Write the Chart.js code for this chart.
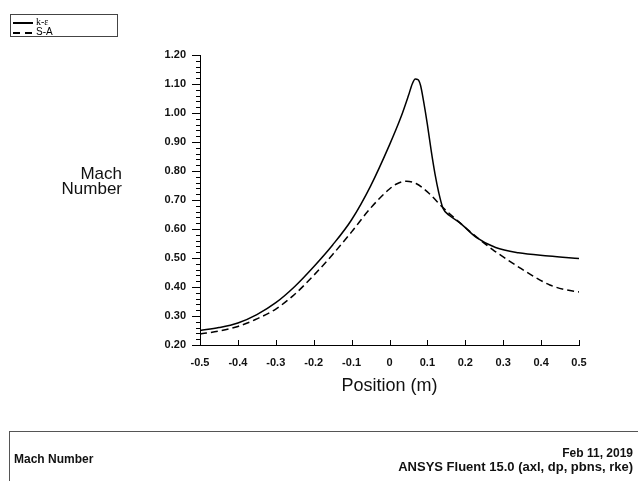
<!DOCTYPE html>
<html>
<head>
<meta charset="utf-8">
<script src="https://cdn.jsdelivr.net/npm/chart.js@4.4.1/dist/chart.umd.min.js"></script>
<style>
    body { margin: 0; background: #fff; }
    #wrap { position: relative; width: 638px; height: 481px; overflow: hidden; font-family: "Liberation Sans", Arial, sans-serif; color: #111; }
    #chart { position: absolute; left: 0; top: 0; }
    #legend { position: absolute; left: 10px; top: 14px; width: 106px; height: 21px; border: 1px solid #444; }
    .leg-row { position: absolute; left: 2px; height: 10px; font-size: 10px; line-height: 10px; color: #000; }
    .leg-line { position: absolute; left: 0; top: 5px; width: 20px; height: 1.5px; background: #000; }
    .leg-line.dash { background: repeating-linear-gradient(to right, #000 0 7px, transparent 7px 12px); }
    .leg-text { position: absolute; left: 23px; top: 0; white-space: nowrap; }
    #ytitle { position: absolute; right: 516px; top: 166px; text-align: right; font-size: 17px; line-height: 15px; }
    #footer { position: absolute; left: 9px; top: 431px; width: 650px; height: 70px; border: 1px solid #555; }
    .foot { position: absolute; font-size: 12px; font-weight: bold; white-space: nowrap; line-height: 13px; }
</style>
</head>
<body>
<div id="wrap">
    <canvas id="chart" width="638" height="481"></canvas>
    <div id="legend">
        <div class="leg-row" style="top:2px"><span class="leg-line"></span><span class="leg-text" style="font-family:'Liberation Serif',serif">k-ε</span></div>
        <div class="leg-row" style="top:12px"><span class="leg-line dash"></span><span class="leg-text">S-A</span></div>
    </div>
    <div id="ytitle">Mach<br>Number</div>
    <div id="footer">
        <div class="foot" style="left:4px;top:21px">Mach Number</div>
        <div class="foot" style="right:27px;top:15px">Feb 11, 2019</div>
        <div class="foot" style="right:27px;top:28px;font-size:13px">ANSYS Fluent 15.0 (axl, dp, pbns, rke)</div>
    </div>
</div>
<script>
// k-epsilon solution
const kepsX = [-0.5, -0.45, -0.4, -0.35, -0.3, -0.25, -0.2, -0.15, -0.1, -0.05, 0, 0.03, 0.05, 0.06, 0.068, 0.075, 0.082, 0.09, 0.1, 0.11, 0.12, 0.13, 0.141, 0.16, 0.186, 0.23, 0.28, 0.34, 0.42, 0.5];
const kepsY = [0.250, 0.260, 0.276, 0.305, 0.346, 0.402, 0.470, 0.545, 0.632, 0.748, 0.890, 0.985, 1.060, 1.100, 1.117, 1.115, 1.095, 1.040, 0.960, 0.870, 0.790, 0.725, 0.672, 0.645, 0.621, 0.570, 0.536, 0.518, 0.507, 0.498];

// Spalart-Allmaras solution
const saX = [-0.5, -0.45, -0.4, -0.35, -0.3, -0.25, -0.2, -0.15, -0.1, -0.05, 0, 0.02, 0.045, 0.07, 0.1, 0.141, 0.186, 0.23, 0.273, 0.31, 0.344, 0.38, 0.423, 0.46, 0.5];
const saY = [0.238, 0.248, 0.264, 0.290, 0.324, 0.375, 0.440, 0.512, 0.590, 0.672, 0.738, 0.756, 0.765, 0.757, 0.728, 0.674, 0.621, 0.572, 0.528, 0.495, 0.466, 0.437, 0.407, 0.392, 0.383];

const xTickValues = [-0.5, -0.4, -0.3, -0.2, -0.1, 0, 0.1, 0.2, 0.3, 0.4, 0.5];
const xTickLabels = ['-0.5', '-0.4', '-0.3', '-0.2', '-0.1', '0', '0.1', '0.2', '0.3', '0.4', '0.5'];
const yTickValues = [0.2, 0.3, 0.4, 0.5, 0.6, 0.7, 0.8, 0.9, 1.0, 1.1, 1.2];
const yTickLabels = ['0.20', '0.30', '0.40', '0.50', '0.60', '0.70', '0.80', '0.90', '1.00', '1.10', '1.20'];

const toPoints = (xs, ys) => xs.map((x, i) => ({ x: x, y: ys[i] }));

// tick marks: y major outward + 4 minors, x major inward
const axisTicks = {
    id: 'axisTicks',
    afterDraw(chart) {
        const { ctx, scales: { x, y } } = chart;
        ctx.save();
        ctx.strokeStyle = '#000';
        ctx.lineWidth = 1;
        ctx.beginPath();
        yTickValues.forEach((v, i) => {
            const py = Math.round(y.getPixelForValue(v)) + 0.5;
            ctx.moveTo(y.right - 8, py);
            ctx.lineTo(y.right, py);
            if (i < yTickValues.length - 1) {
                const step = (yTickValues[i + 1] - v) / 5;
                for (let k = 1; k < 5; k++) {
                    const pm = Math.round(y.getPixelForValue(v + k * step)) + 0.5;
                    ctx.moveTo(y.right - 4, pm);
                    ctx.lineTo(y.right, pm);
                }
            }
        });
        xTickValues.forEach(v => {
            const px = Math.round(x.getPixelForValue(v)) + 0.5;
            ctx.moveTo(px, x.top);
            ctx.lineTo(px, x.top - 5);
        });
        ctx.stroke();
        ctx.restore();
    }
};

const tickFont = { family: "'Liberation Sans', Arial, sans-serif", size: 11, weight: 'bold' };

new Chart(document.getElementById('chart'), {
    type: 'line',
    data: {
        datasets: [
            {
                label: 'k-ε',
                data: toPoints(kepsX, kepsY),
                borderColor: '#000',
                borderWidth: 1.5,
                pointRadius: 0,
                cubicInterpolationMode: 'monotone',
                fill: false
            },
            {
                label: 'S-A',
                data: toPoints(saX, saY),
                borderColor: '#000',
                borderWidth: 1.5,
                borderDash: [7, 4],
                pointRadius: 0,
                cubicInterpolationMode: 'monotone',
                fill: false
            }
        ]
    },
    options: {
        responsive: false,
        animation: false,
        layout: { padding: { left: 0, right: 59, top: 55, bottom: 0 } },
        plugins: { legend: { display: false }, tooltip: { enabled: false } },
        scales: {
            x: {
                type: 'linear',
                min: -0.5,
                max: 0.5,
                afterBuildTicks: s => { s.ticks = xTickValues.map(v => ({ value: v })); },
                afterFit: s => { s.height = 136; },
                grid: { display: true, drawOnChartArea: false, drawTicks: false },
                border: { display: true, color: '#000', width: 1 },
                ticks: {
                    padding: 11,
                    color: '#111',
                    font: tickFont,
                    maxRotation: 0,
                    callback: (v, i) => xTickLabels[i]
                },
                title: {
                    display: true,
                    text: 'Position (m)',
                    color: '#111',
                    font: { family: "'Liberation Sans', Arial, sans-serif", size: 18 },
                    padding: { top: 0, bottom: 84 }
                }
            },
            y: {
                type: 'linear',
                min: 0.2,
                max: 1.2,
                afterBuildTicks: s => { s.ticks = yTickValues.map(v => ({ value: v })); },
                afterFit: s => { s.width = 200; },
                grid: { display: true, drawOnChartArea: false, drawTicks: false },
                border: { display: true, color: '#000', width: 1 },
                ticks: {
                    padding: 14,
                    color: '#111',
                    font: tickFont,
                    callback: (v, i) => yTickLabels[i]
                }
            }
        }
    },
    plugins: [axisTicks]
});
</script>
</body>
</html>
